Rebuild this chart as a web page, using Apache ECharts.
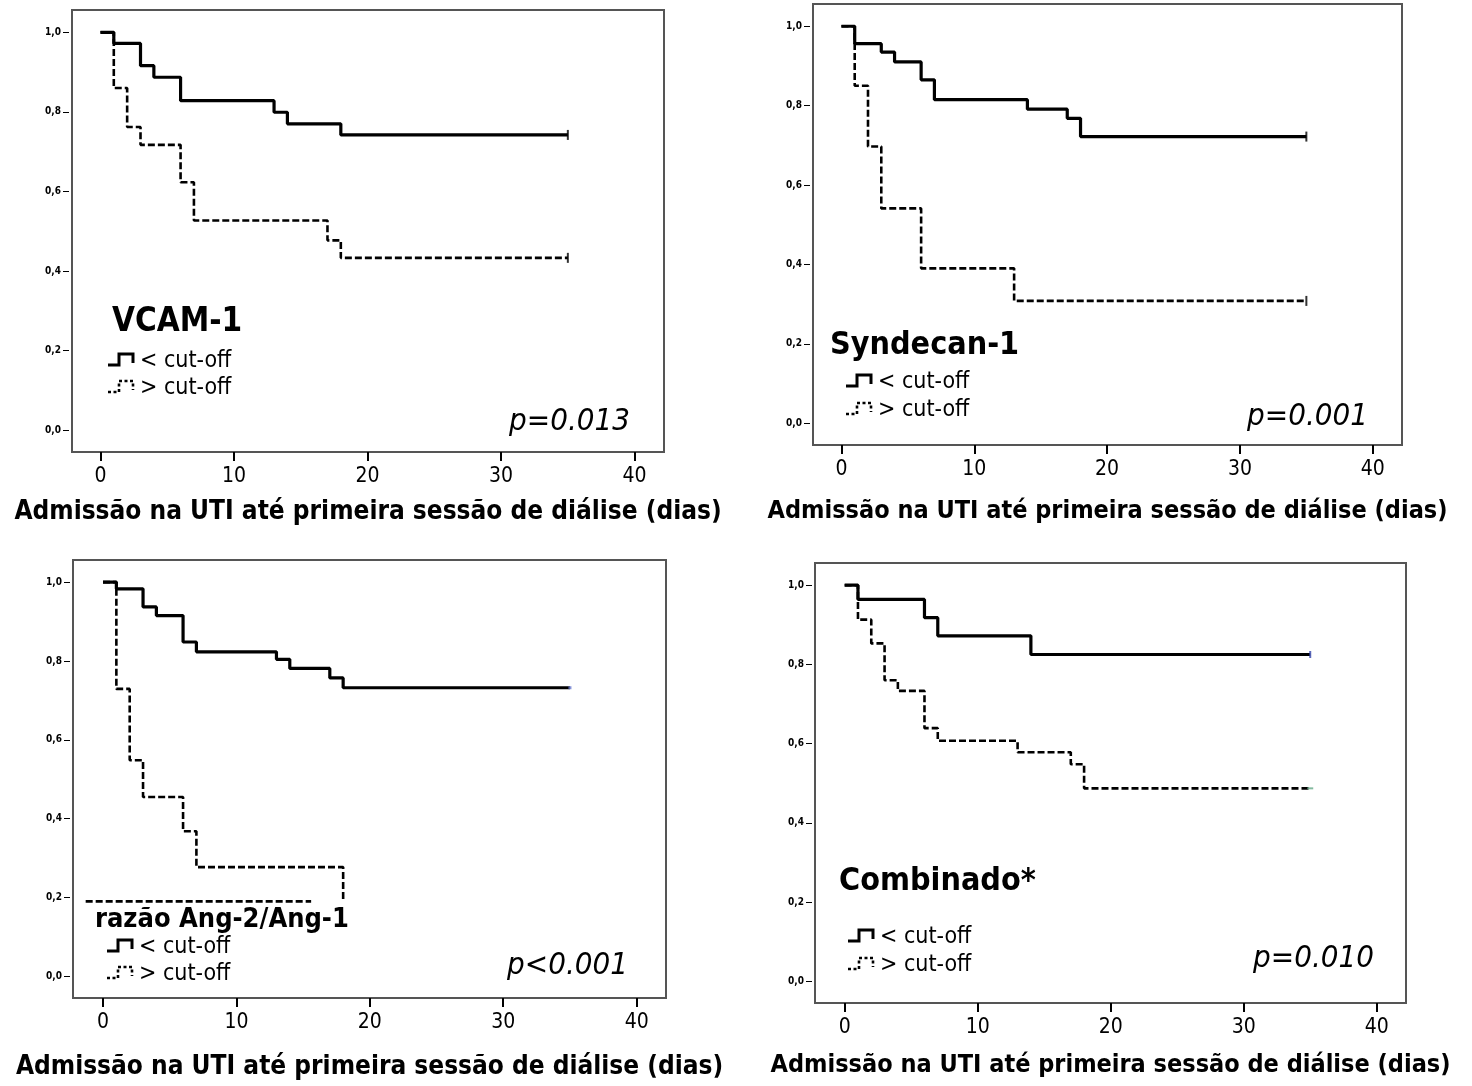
<!DOCTYPE html>
<html><head><meta charset="utf-8">
<script src="https://cdn.jsdelivr.net/npm/echarts@6/dist/echarts.min.js"></script>
<style>html,body{margin:0;padding:0;background:#fff}#c{width:1472px;height:1086px}</style>
</head><body><div id="c"></div>
<script>
// ---- data ----
const tickDays = [0, 10, 20, 30, 40];
const tickSurv = [0, 0.2, 0.4, 0.6, 0.8, 1.0];
const axisTitle = 'Admissão na UTI até primeira sessão de diálise (dias)';
const panelNames = ['VCAM-1', 'Syndecan-1', 'razão Ang-2/Ang-1', 'Combinado*'];
const pValues = ['p=0.013', 'p=0.001', 'p<0.001', 'p=0.010'];
const legendLow = '< cut-off';
const legendHigh = '> cut-off';

// VCAM-1
const vcamLowT = [0, 1, 3, 4, 6, 13, 14, 18, 35];
const vcamLowS = [1, 0.972, 0.916, 0.887, 0.828, 0.799, 0.770, 0.742, 0.742];
const vcamHighT = [0, 1, 2, 3, 6, 7, 17, 18, 35];
const vcamHighS = [1, 0.860, 0.762, 0.717, 0.623, 0.527, 0.477, 0.433, 0.433];
// Syndecan-1
const syndLowT = [0, 1, 3, 4, 6, 7, 14, 17, 18, 35];
const syndLowS = [1, 0.956, 0.935, 0.910, 0.865, 0.815, 0.791, 0.768, 0.722, 0.722];
const syndHighT = [0, 1, 2, 3, 6, 13, 35];
const syndHighS = [1, 0.850, 0.697, 0.541, 0.390, 0.308, 0.308];
// Ang-2/Ang-1
const angLowT = [0, 1, 3, 4, 6, 7, 13, 14, 17, 18, 35];
const angLowS = [1, 0.983, 0.937, 0.915, 0.848, 0.823, 0.804, 0.781, 0.757, 0.732, 0.732];
const angHighT = [0, 1, 2, 3, 6, 7, 18];
const angHighS = [1, 0.729, 0.548, 0.455, 0.368, 0.277, 0.190];
const angStrayT = [-1.3, 15.6];
const angStrayS = [0.190, 0.190];
// Combinado
const combLowT = [0, 1, 6, 7, 14, 35];
const combLowS = [1, 0.964, 0.918, 0.872, 0.825, 0.825];
const combHighT = [0, 1, 2, 3, 4, 6, 7, 13, 17, 18, 35];
const combHighS = [1, 0.913, 0.853, 0.760, 0.733, 0.639, 0.607, 0.578, 0.548, 0.487, 0.487];

const zip = (t, s) => t.map((v, i) => [v, s[i]]);

// ---- layout ----
const grids = [
  {left: 72, top: 10, width: 592, height: 442},
  {left: 813, top: 4, width: 589, height: 441},
  {left: 73, top: 560, width: 593, height: 438},
  {left: 815, top: 563, width: 591, height: 440}
];
const xMins = [-2.13, -2.14, -2.25, -2.23];
const nameGaps = [47, 54, 56, 50];
const nameSizes = [26, 25, 26, 25];
const COND = '"DejaVu Sans Condensed", "DejaVu Sans", sans-serif';

const xAxes = grids.map((g, i) => ({
  gridIndex: i, type: 'value', min: xMins[i], max: 42.2, position: 'bottom',
  axisLine: {show: false, onZero: false},
  axisTick: {show: true, length: 9, inside: false, customValues: tickDays, lineStyle: {color: '#000', width: 2}},
  axisLabel: {customValues: tickDays, fontSize: 21, color: '#000', margin: 14, fontFamily: COND},
  splitLine: {show: false},
  name: axisTitle, nameLocation: 'middle', nameGap: nameGaps[i],
  nameTextStyle: {fontSize: nameSizes[i], fontWeight: 'bold', color: '#000', fontFamily: COND}
}));
const yAxes = grids.map((g, i) => ({
  gridIndex: i, type: 'value', min: -0.055, max: 1.056, position: 'left', offset: 3,
  axisLine: {show: false, onZero: false},
  axisTick: {show: true, length: 6, customValues: tickSurv, lineStyle: {color: '#000', width: 1}},
  axisLabel: {customValues: tickSurv, fontSize: 10, fontWeight: 'bold', color: '#000', margin: 8,
    fontFamily: COND, formatter: v => v.toFixed(1).replace('.', ',')},
  splitLine: {show: false}
}));

function stepLine(i, data, dashed, width) {
  return {type: 'line', xAxisIndex: i, yAxisIndex: i, step: 'end', data, symbol: 'none',
    silent: true, z: dashed ? 3 : 2,
    lineStyle: {color: '#000', width: width || (dashed ? 2.6 : 3.2), type: dashed ? [7, 3] : 'solid'}};
}
function censor(i, data, color, size) {
  return {type: 'scatter', xAxisIndex: i, yAxisIndex: i, data, symbol: 'rect',
    symbolSize: size || [2, 10], itemStyle: {color: color || '#000'}, silent: true, z: 5};
}
const last = (t, s) => [[t[t.length - 1], s[s.length - 1]]];

const series = [
  stepLine(0, zip(vcamLowT, vcamLowS), false),
  stepLine(0, zip(vcamHighT, vcamHighS), true),
  censor(0, last(vcamLowT, vcamLowS)), censor(0, last(vcamHighT, vcamHighS)),
  stepLine(1, zip(syndLowT, syndLowS), false),
  stepLine(1, zip(syndHighT, syndHighS), true),
  censor(1, last(syndLowT, syndLowS)), censor(1, last(syndHighT, syndHighS)),
  stepLine(2, zip(angLowT, angLowS), false),
  stepLine(2, zip(angHighT, angHighS), true),
  stepLine(2, zip(angStrayT, angStrayS), true),
  censor(2, last(angLowT, angLowS), '#6677cc', [3, 3]),
  stepLine(3, zip(combLowT, combLowS), false),
  stepLine(3, zip(combHighT, combHighS), true),
  censor(3, last(combLowT, combLowS), '#3344aa', [2, 7]),
  censor(3, last(combHighT, combHighS), '#66aa88', [6, 2])
];

// ---- annotations ----
const labelPos = [
  {name: [112, 322, 33], leg: [108, 361, 388], p: [630, 422]},
  {name: [830, 346, 32], leg: [846, 382, 410], p: [1368, 417]},
  {name: [95, 920, 27], leg: [107, 947, 974], p: [628, 966]},
  {name: [839, 882, 32], leg: [848, 937, 965], p: [1374, 959]}
];
const graphic = [];
labelPos.forEach((lp, i) => {
  graphic.push({type: 'text', x: lp.name[0], y: lp.name[1], silent: true,
    style: {text: panelNames[i], font: 'bold ' + lp.name[2] + 'px ' + COND, fill: '#000',
      textAlign: 'left', textVerticalAlign: 'middle'}});
  const lx = lp.leg[0];
  [lp.leg[1], lp.leg[2]].forEach((yc, k) => {
    graphic.push({type: 'polyline', silent: true,
      shape: {points: [[lx, yc + 4], [lx + 11, yc + 4], [lx + 11, yc - 7], [lx + 25, yc - 7], [lx + 25, yc + 2]]},
      style: {stroke: '#000', lineWidth: k === 0 ? 3 : 2.6, fill: null, lineDash: k === 0 ? null : [3, 2.5]}});
    graphic.push({type: 'text', x: lx + 32, y: yc, silent: true,
      style: {text: k === 0 ? legendLow : legendHigh, font: '23px ' + COND, fill: '#000',
        textAlign: 'left', textVerticalAlign: 'middle'}});
  });
  graphic.push({type: 'text', x: lp.p[0], y: lp.p[1], silent: true,
    style: {text: pValues[i], font: 'italic 31px ' + COND, fill: '#000',
      textAlign: 'right', textVerticalAlign: 'middle'}});
});

const chart = echarts.init(document.getElementById('c'), null, {renderer: 'canvas'});
chart.setOption({
  animation: false,
  backgroundColor: '#fff',
  grid: grids.map(g => Object.assign({show: true, borderColor: '#555', borderWidth: 2, containLabel: false}, g)),
  xAxis: xAxes,
  yAxis: yAxes,
  series,
  graphic
});
</script></body></html>
